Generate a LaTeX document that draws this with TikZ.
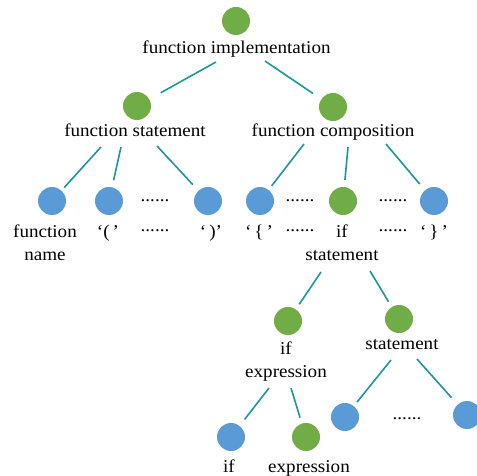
\documentclass[tikz,border=0pt]{standalone}
\usepackage{fontspec}
\setmainfont{Liberation Serif}[FakeStretch=1.06]
\usetikzlibrary{positioning}
\definecolor{leafblue}{RGB}{91,155,213}
\definecolor{rulegreen}{RGB}{112,173,71}
\definecolor{linkteal}{RGB}{28,150,150}

\begin{document}
\begin{tikzpicture}[x=1pt,y=-1pt,
    dot/.style={circle,minimum size=28pt,inner sep=0pt},
    lbl/.style={anchor=base,align=center,inner sep=0pt,font=\fontsize{18}{23}\selectfont},
    link/.style={linkteal,line width=1.6pt}]
    \clip (0,0) rectangle (477,476);
    % circles
    \foreach \n/\x/\y/\c in {root/236/21/rulegreen, fs/137/106/rulegreen, fc/333/107/rulegreen,
        fname/52/201/leafblue, lp/109/201/leafblue, rp/208/201/leafblue,
        lb/260/201/leafblue, ifst/343/201/rulegreen, rb/434/201/leafblue,
        ifexp/288/321/rulegreen, stmt/399/319/rulegreen,
        ifleaf/231/437/leafblue, exleaf/306/437/rulegreen,
        stA/345/417/leafblue, stB/467/415/leafblue} {
        \node[dot,fill=\c] (\n) at (\x,\y) {};
    }
    % labels (multi-line ones sit on their last baseline)
    \node[lbl] (rootlbl) at (236.5,54) {function implementation};
    \node[lbl] (fslbl) at (135,137) {function statement};
    \node[lbl] (fclbl) at (333,137) {function composition};
    \node[lbl] (fnamelbl) at (45,260) {function\\name};
    \node[lbl] (lplbl) at (108,237) {‘(\,’};
    \node[lbl] (rplbl) at (211,237) {‘\,)’};
    \node[lbl] (lblbl) at (259,237) {‘\,\{\,’};
    \node[lbl] (ifstlbl) at (342,260) {if\\statement};
    \node[lbl] (rblbl) at (434,237) {‘\,\}\,’};
    \node[lbl] (ifexplbl) at (286,377) {if\\expression};
    \node[lbl] (stmtlbl) at (402,349) {statement};
    \node[lbl] (ifleaflbl) at (229,472) {if};
    \node[lbl] (exleaflbl) at (309,472) {expression};
    % dots
    \foreach \x/\y [count=\i] in {155/201, 300/201, 393/201, 155/232, 300/232, 393/232, 407/419} {
        \node[lbl] (gap\i) at (\x,\y) {......};
    }
    % links
    \foreach \p/\dx/\dy/\ch/\g in {root/-20/41/fs/13, root/29/40/fc/10,
        fs/-36/41/fname/4, fs/-16/41/lp/7, fs/20/40/rp/8,
        fc/-29/37/lb/5, fc/15/40/ifst/7, fc/53/37/rb/8,
        ifst/-22/71/ifexp/6, ifst/27/70/stmt/6,
        ifexp/-19/67/ifleaf/8, ifexp/3/67/exleaf/6,
        stmt/-8/41/stA/5, stmt/18/40/stB/9} {
        \draw[link,shorten >=\g pt] ([shift={(\dx,\dy)}]\p.center) -- (\ch);
    }
\end{tikzpicture}
\end{document}
